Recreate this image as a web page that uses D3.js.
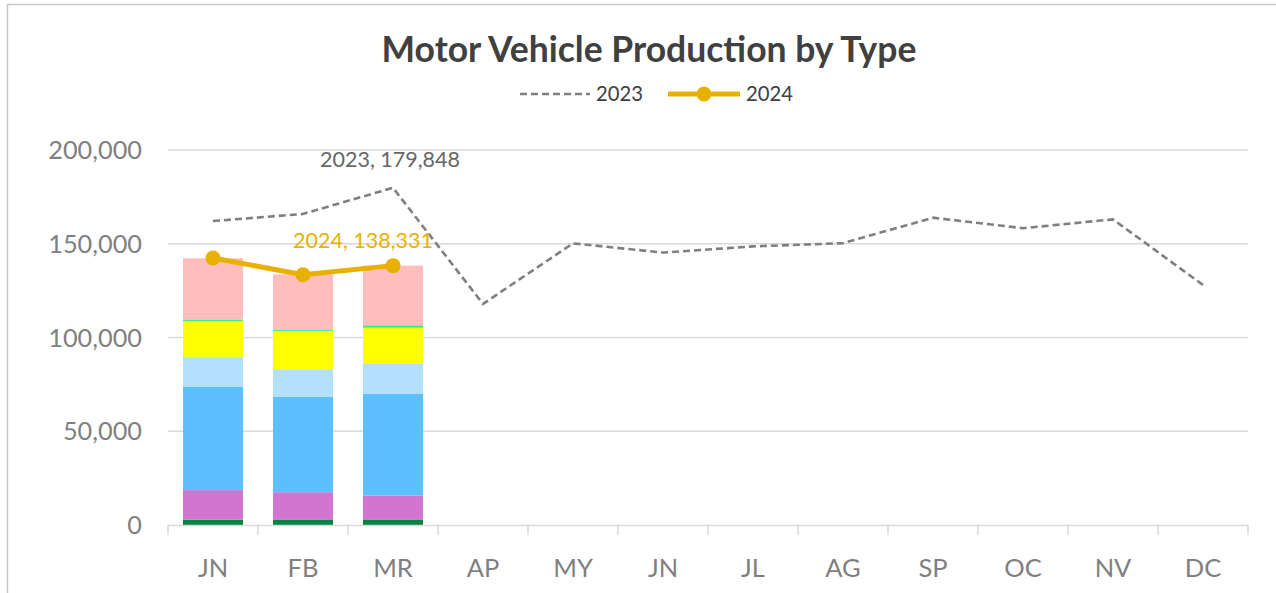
<!DOCTYPE html>
<html><head><meta charset="utf-8">
<script src="https://cdn.jsdelivr.net/npm/d3@7"></script>
<style>html,body{margin:0;padding:0;background:#fff;}svg{display:block;}</style>
</head><body>
<svg id="chart" width="1276" height="593"></svg>
<script>
const months = ["JN","FB","MR","AP","MY","JN","JL","AG","SP","OC","NV","DC"];
const yTicks = [0, 50000, 100000, 150000, 200000];
const series2023 = [162100, 165900, 179848, 117900, 150200, 145300, 148600, 150300, 163900, 158300, 163000, 128000];
const series2024 = [142400, 133500, 138331];
const stackKeys = ["s1","s2","s3","s4","s5","s6","s7","s8"];
const stackColors = ["#00843D","#D175D0","#5CBFFE","#B2E0FD","#FFFF00","#FFB000","#2EEA8C","#FFBDBD"];
const seg1 = [2800, 2700, 2700];
const seg2 = [15800, 14800, 13000];
const seg3 = [55100, 51000, 54400];
const seg4 = [16000, 14600, 15800];
const seg5 = [19000, 20300, 19200];
const seg6 = [150, 150, 400];
const seg7 = [800, 700, 1000];
const seg8 = [32600, 29400, 31800];

const rows = [0,1,2].map(i => ({i, s1:seg1[i], s2:seg2[i], s3:seg3[i], s4:seg4[i], s5:seg5[i], s6:seg6[i], s7:seg7[i], s8:seg8[i]}));

const svg = d3.select("#chart");
const font = "Lato, 'Open Sans', sans-serif";

// chart border
svg.append("rect").attr("x",7.5).attr("y",4.5).attr("width",1400).attr("height",800)
  .attr("fill","#fff").attr("stroke","#c6c6c6").attr("stroke-width",1.5);

const x = d3.scaleBand().domain(d3.range(12)).range([168,1248]).paddingInner(1/3).paddingOuter(1/6);
const y = d3.scaleLinear().domain([0,200000]).range([525,150]);
const cx = i => x(i) + x.bandwidth()/2;

// gridlines
svg.append("g").selectAll("line").data(yTicks.slice(1)).join("line")
  .attr("x1",168).attr("x2",1248).attr("y1",d=>y(d)).attr("y2",d=>y(d))
  .attr("stroke","#d9d9d9").attr("stroke-width",1.5);

// y labels
svg.append("g").selectAll("text").data(yTicks).join("text")
  .attr("x",142).attr("y",d=>y(d)+9).attr("text-anchor","end")
  .attr("font-family",font).attr("font-size",25.3).attr("fill","#7f7f7f")
  .text(d=>d3.format(",")(d));

// stacked bars
const stacked = d3.stack().keys(stackKeys)(rows);
svg.append("g").selectAll("g").data(stacked).join("g")
  .attr("fill",(d,k)=>stackColors[k])
  .selectAll("rect").data(d=>d).join("rect")
  .attr("x",d=>x(d.data.i)).attr("width",x.bandwidth())
  .attr("y",d=>y(d[1])).attr("height",d=>y(d[0])-y(d[1]));

// x axis line and ticks
const xa = svg.append("g");
xa.append("line").attr("x1",168).attr("x2",1248).attr("y1",525.5).attr("y2",525.5)
  .attr("stroke","#d9d9d9").attr("stroke-width",1.5);
xa.selectAll("line.t").data(d3.range(13)).join("line").attr("class","t")
  .attr("x1",d=>168+d*x.step()).attr("x2",d=>168+d*x.step())
  .attr("y1",525).attr("y2",535).attr("stroke","#d9d9d9").attr("stroke-width",1.5);
xa.selectAll("text").data(months).join("text")
  .attr("x",(d,i)=>cx(i)).attr("y",577).attr("text-anchor","middle")
  .attr("font-family",font).attr("font-size",25.5).attr("fill","#7f7f7f").text(d=>d);

// 2023 line
const line = d3.line().x((d,i)=>cx(i)).y(d=>y(d));
svg.append("path").datum(series2023).attr("d",line).attr("fill","none")
  .attr("stroke","#7f7f7f").attr("stroke-width",2.6).attr("stroke-dasharray","7,4");

// 2024 line
const gold = "#E8B100";
svg.append("path").datum(series2024).attr("d",line).attr("fill","none")
  .attr("stroke",gold).attr("stroke-width",5).attr("stroke-linejoin","round");
svg.append("g").selectAll("circle").data(series2024).join("circle")
  .attr("cx",(d,i)=>cx(i)).attr("cy",d=>y(d)).attr("r",7.5).attr("fill",gold);

// data labels
svg.append("text").attr("x",cx(2)-3).attr("y",y(series2023[2])-21).attr("text-anchor","middle")
  .attr("font-family",font).attr("font-size",21.5).attr("fill","#666666")
  .text("2023, " + d3.format(",")(series2023[2]));
svg.append("text").attr("x",cx(2)-30).attr("y",y(series2024[2])-18).attr("text-anchor","middle")
  .attr("font-family",font).attr("font-size",21.5).attr("fill",gold)
  .text("2024, " + d3.format(",")(series2024[2]));

// title
svg.append("text").attr("x",649).attr("y",62).attr("text-anchor","middle")
  .attr("font-family",font).attr("font-weight","bold").attr("font-size",35.5).attr("fill","#404040")
  .text("Motor Vehicle Production by Type");

// legend
const lg = svg.append("g");
lg.append("line").attr("x1",520).attr("x2",590).attr("y1",94).attr("y2",94)
  .attr("stroke","#7f7f7f").attr("stroke-width",2.6).attr("stroke-dasharray","7,4");
lg.append("text").attr("x",596).attr("y",101).attr("font-family",font).attr("font-size",20.3)
  .attr("fill","#404040").text("2023");
lg.append("line").attr("x1",668).attr("x2",740).attr("y1",94).attr("y2",94)
  .attr("stroke",gold).attr("stroke-width",5);
lg.append("circle").attr("cx",704).attr("cy",94).attr("r",7.5).attr("fill",gold);
lg.append("text").attr("x",746).attr("y",101).attr("font-family",font).attr("font-size",20.3)
  .attr("fill","#404040").text("2024");
</script>
</body></html>
